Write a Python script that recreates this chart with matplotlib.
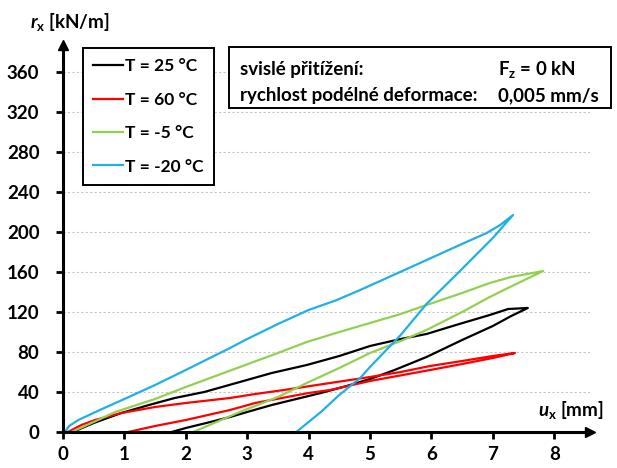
import numpy as np
import matplotlib
matplotlib.use("Agg")
import matplotlib.pyplot as plt
from matplotlib.patches import Rectangle

plt.rcParams['font.family'] = ['Lato', 'DejaVu Sans']
plt.rcParams['font.weight'] = 'bold'
plt.rcParams['mathtext.fontset'] = 'custom'
plt.rcParams['mathtext.rm'] = 'Lato:bold'
plt.rcParams['mathtext.it'] = 'Lato:italic:bold'

# hysteresis loops: loading (origin -> peak) then unloading (peak -> residual)
t25_load_x = [0.16, 0.5, 0.95, 1.4, 1.82, 2.3, 2.88, 3.4, 3.97, 4.5, 5.0, 5.5, 5.92, 6.4, 6.95, 7.25, 7.57]
t25_load_y = [0, 9, 19, 27, 34, 40, 50, 59, 67, 76, 86, 93, 98, 107, 117, 123, 124]
t25_unload_x = [7.57, 7.3, 7.0, 6.5, 5.92, 5.4, 5.0, 4.62, 4.2, 3.8, 3.4, 3.0, 2.72, 2.4, 2.0, 1.77]
t25_unload_y = [124, 116, 106, 92, 75, 62, 53, 46, 39, 33, 27, 20, 15, 10, 4, 0]

t60_load_x = [0.08, 0.3, 0.52, 0.95, 1.5, 2.0, 2.72, 3.13, 3.6, 4.35, 5.0, 5.5, 5.98, 6.5, 7.0, 7.36]
t60_load_y = [0, 7, 12, 19, 25, 29, 34, 38, 42, 49, 55, 60, 66, 71, 76, 79]
t60_unload_x = [7.36, 7.0, 6.5, 5.98, 5.0, 4.35, 4.0, 3.13, 2.72, 2.0, 1.5, 1.06]
t60_unload_y = [79, 74, 68, 62, 51, 42, 39, 29, 22, 12, 6, 0]

tm5_load_x = [0.14, 0.5, 0.85, 1.5, 2.0, 2.88, 3.5, 3.97, 4.5, 5.0, 5.5, 5.92, 6.5, 6.95, 7.3, 7.82]
tm5_load_y = [0, 10, 20, 33, 45, 65, 79, 90, 100, 109, 118, 127, 139, 149, 155, 161]
tm5_unload_x = [7.82, 7.28, 6.95, 6.5, 5.92, 5.5, 5.0, 4.5, 3.97, 3.5, 2.88, 2.5, 2.12]
tm5_unload_y = [161, 145, 135, 120, 102, 91, 79, 64, 49, 35, 20, 10, 0]

tm20_load_x = [0.03, 0.1, 0.25, 0.6, 1.0, 1.5, 2.0, 2.72, 3.0, 3.5, 4.0, 4.46, 4.84, 5.49, 6.03, 6.57, 6.9, 7.12, 7.33]
tm20_load_y = [0, 6, 12, 22, 33, 47, 62, 84, 93, 108, 122, 132, 142, 160, 175, 190, 199, 207, 217]
tm20_unload_x = [7.33, 7.0, 6.4, 5.92, 5.5, 5.0, 4.84, 4.5, 4.2, 3.8]
tm20_unload_y = [217, 194, 157, 128, 97, 65, 54, 37, 20, 0]

labels = ['T = 25 °C', 'T = 60 °C', 'T = -5 °C', 'T = -20 °C']
colors = ['#000000', '#ff0000', '#92d050', '#1fb0e6']
y_ticks = [0, 40, 80, 120, 160, 200, 240, 280, 320, 360]
x_ticks = [0, 1, 2, 3, 4, 5, 6, 7, 8]

W, H = 617, 468
fig = plt.figure(figsize=(W / 100, H / 100), dpi=100)
ax = fig.add_axes([63 / W, 36 / H, 527 / W, 387 / H])

series = [
    (t25_load_x, t25_load_y, t25_unload_x, t25_unload_y),
    (t60_load_x, t60_load_y, t60_unload_x, t60_unload_y),
    (tm5_load_x, tm5_load_y, tm5_unload_x, tm5_unload_y),
    (tm20_load_x, tm20_load_y, tm20_unload_x, tm20_unload_y),
]
for (lx, ly, ux, uy), lab, col in zip(series, labels, colors):
    ax.plot(lx + ux, ly + uy, color=col, lw=1.6, label=lab, solid_joinstyle='round')

ax.set_xlim(0, 527 / 61.4)
ax.set_ylim(0, 387)
ax.set_xticks(x_ticks)
ax.set_yticks(y_ticks)
ax.grid(axis='y', ls=(0, (2, 2)), color='#c4c4c4', lw=0.8)
ax.set_axisbelow(True)

for s in ['top', 'right']:
    ax.spines[s].set_visible(False)
for s in ['left', 'bottom']:
    ax.spines[s].set_linewidth(2.2)
ax.plot(1, 0, '>k', ms=7, transform=ax.get_yaxis_transform(), clip_on=False)
ax.plot(0, 1, '^k', ms=7, transform=ax.get_xaxis_transform(), clip_on=False)

ax.tick_params(axis='both', direction='out', length=5, width=2, labelsize=13.5)
ax.tick_params(axis='x', pad=5)
ax.tick_params(axis='y', pad=12)

leg = ax.legend(loc='upper left', bbox_to_anchor=(83 / W, 1 - 48 / H),
                bbox_transform=fig.transFigure, borderaxespad=0,
                fancybox=False, edgecolor='black', framealpha=1,
                handlelength=1.7, handletextpad=0.1, labelspacing=1.0,
                borderpad=0.6, prop={'size': 12.5, 'weight': 'bold'})
leg.get_frame().set_linewidth(1.4)

# info box
fig.patches.append(Rectangle((229 / W, 1 - 108 / H), (611 - 229) / W, 61 / H,
                             transform=fig.transFigure, facecolor='white',
                             edgecolor='black', lw=1.4))
fig.text(240 / W, 1 - 70 / H, 'svislé přitížení:', va='center', size=13.5)
fig.text(498 / W, 1 - 70 / H, r'$\mathrm{F}_\mathrm{z}$ = 0 kN', va='center', size=13.5)
fig.text(240 / W, 1 - 96 / H, 'rychlost podélné deformace:', va='center', size=13.5)
fig.text(498 / W, 1 - 96 / H, '0,005 mm/s', va='center', size=13.5)

# axis titles
fig.text(30 / W, 1 - 22 / H, r'$\mathit{r}_\mathrm{x}$ [kN/m]', va='center', ha='left', size=13.5)
fig.text(604 / W, 1 - 410 / H, r'$\mathit{u}_\mathrm{x}$ [mm]', va='center', ha='right', size=13.5)

fig.savefig('out.png', dpi=100)
